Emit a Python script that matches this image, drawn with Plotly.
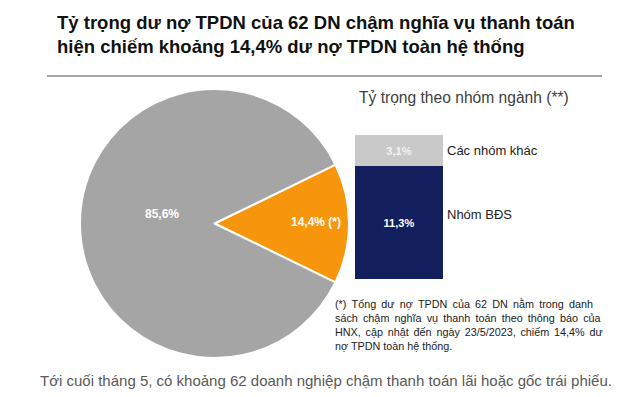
import plotly.graph_objects as go

# Pie data
pie_labels = ["Nợ chậm thanh toán (*)", "Phần còn lại"]
pie_values = [14.4, 85.6]
pie_text = ["14,4% (*)", "85,6%"]
pie_colors = ["#F7960C", "#A5A5A5"]

# Stacked bar data (by sector)
bar_groups = ["Nhóm BĐS", "Các nhóm khác"]
bar_values = [11.3, 3.1]
bar_text = ["11,3%", "3,1%"]
bar_colors = ["#131F5C", "#C9C9C9"]
bar_text_colors = ["#FFFFFF", "#F2F2F2"]

# Footnote lines (justified in the original)
foot_lines = [
    "(*) Tổng dư nợ TPDN của 62 DN nằm trong danh",
    "sách chậm nghĩa vụ thanh toán theo thông báo của",
    "HNX, cập nhật đến ngày 23/5/2023, chiếm 14,4% dư",
    "nợ TPDN toàn hệ thống.",
]
foot_gap = [" \u2009", " \u2009", " \u2006", " "]

FONT = "Liberation Sans, Arial, sans-serif"
OFF = 8            # default body margin of the html page
W, H = 639 - OFF, 397 - OFF


def px(x):
    return (x - OFF) / W


def py(y):
    return 1 - (y - OFF) / H


fig = go.Figure()

fig.add_trace(go.Pie(
    labels=pie_labels, values=pie_values,
    textinfo="none",
    sort=False, direction="clockwise",
    rotation=90 - pie_values[0] / 100 * 360 / 2,
    marker=dict(colors=pie_colors, line=dict(color="white", width=2)),
    domain=dict(x=[px(80), px(349)], y=[py(358), py(89)]),
    showlegend=False, hoverinfo="skip",
))

# Pie labels
for t, (x, y) in zip(pie_text, [(316, 222), (162, 214)]):
    fig.add_annotation(
        x=px(x), y=py(y), xref="paper", yref="paper", text=t, showarrow=False,
        xanchor="center", yanchor="middle",
        font=dict(family=FONT, size=12, color="white", weight="bold"),
    )

cum = 0
for i, (g, v, t, c, tc) in enumerate(zip(bar_groups, bar_values, bar_text, bar_colors, bar_text_colors)):
    fig.add_trace(go.Bar(
        x=[0], y=[v], base=[cum], width=[1], name=g,
        marker=dict(color=c, line=dict(width=0)),
        text=[t], textposition="inside", insidetextanchor="middle",
        textfont=dict(family=FONT, size=11, color=tc, weight="bold"),
        xaxis="x", yaxis="y", showlegend=False, hoverinfo="skip",
    ))
    fig.add_annotation(
        x=0.5, y=cum + v / 2, xref="x", yref="y", text=g, showarrow=False,
        xanchor="left", yanchor="middle", xshift=2, yshift=8 if i == 0 else 0,
        font=dict(family=FONT, size=13, color="#222222"),
    )
    cum += v

fig.update_layout(
    width=W, height=H, margin=dict(l=0, r=0, t=0, b=0),
    paper_bgcolor="white", plot_bgcolor="white",
    barmode="overlay",
    xaxis=dict(domain=[px(355), px(443)], range=[-0.5, 0.5], visible=False, fixedrange=True),
    yaxis=dict(domain=[py(279), py(135)], range=[0, sum(bar_values)], visible=False, fixedrange=True),
    font=dict(family=FONT),
)

# Title
fig.add_annotation(
    x=px(55), y=py(10), xref="paper", yref="paper", xanchor="left", yanchor="top",
    text="Tỷ trọng dư nợ TPDN của 62 DN chậm nghĩa vụ thanh toán<br>hiện chiếm khoảng 14,4% dư nợ TPDN toàn hệ thống",
    showarrow=False, align="left",
    font=dict(family=FONT, size=18.5, color="#111111", weight="bold"),
)
# Separator line
fig.add_shape(type="line", xref="paper", yref="paper",
              x0=px(47), x1=px(602), y0=py(76), y1=py(76),
              line=dict(color="#A6A6A6", width=2))
# Subtitle
fig.add_annotation(
    x=px(357), y=py(97), xref="paper", yref="paper", xanchor="left", yanchor="middle",
    text="Tỷ trọng theo nhóm ngành (**)", showarrow=False,
    font=dict(family=FONT, size=15.6, color="#404040"),
)
# Footnote
fig.add_annotation(
    x=px(333), y=py(296), xref="paper", yref="paper", xanchor="left", yanchor="top",
    text="<br>".join(gap.join(line.split(" ")) for line, gap in zip(foot_lines, foot_gap)),
    showarrow=False, align="left",
    font=dict(family=FONT, size=10.8, color="#222222"),
)
# Caption
fig.add_annotation(
    x=px(38), y=py(380), xref="paper", yref="paper", xanchor="left", yanchor="middle",
    text="Tới cuối tháng 5, có khoảng 62 doanh nghiệp chậm thanh toán lãi hoặc gốc trái phiếu.",
    showarrow=False,
    font=dict(family=FONT, size=15, color="#595959"),
)

fig.write_html("out.html", config=dict(displayModeBar=False))
